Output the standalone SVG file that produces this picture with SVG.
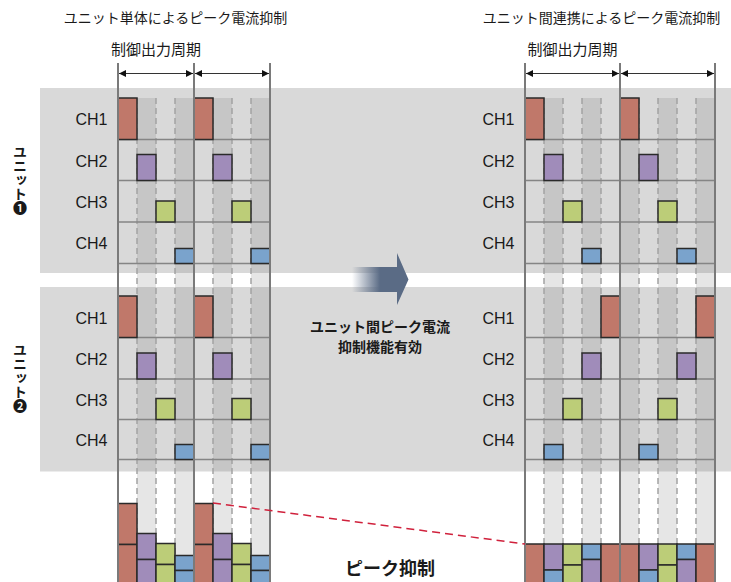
<svg xmlns="http://www.w3.org/2000/svg" width="731" height="582" viewBox="0 0 731 582">
<style>
.jp{font-family:"Noto Sans CJK JP","Noto Sans",sans-serif;fill:#1a1a1a}
.ch{font-family:"Liberation Sans",Arial,sans-serif;font-size:16px;fill:#1a1a1a;text-anchor:end}
.panel{fill:#d9d9d9}
.lst{fill:#e6e6e6}
.dst{fill:#c6c6c6}
.sol{stroke:#7a7a7a;stroke-width:2;fill:none}
.dsh{stroke:#a3a3a3;stroke-width:1.5;stroke-dasharray:6 4;fill:none}
.row{stroke:#858585;stroke-width:1.5;fill:none}
.r{fill:#c0786a;stroke:#2a2a2a;stroke-width:1.5}
.p{fill:#a08cba;stroke:#2a2a2a;stroke-width:1.5}
.g{fill:#bccd78;stroke:#2a2a2a;stroke-width:1.5}
.b{fill:#7aa3cc;stroke:#2a2a2a;stroke-width:1.5}
.per{stroke:#333;stroke-width:1.2;fill:none}
</style>
<defs>
<marker id="ah" viewBox="0 0 10 10" refX="10" refY="5" markerWidth="8" markerHeight="7" markerUnits="userSpaceOnUse" orient="auto-start-reverse">
<path d="M0,0 L10,5 L0,10 z" fill="#111"/>
</marker>
<linearGradient id="fade" gradientUnits="userSpaceOnUse" x1="352" y1="0" x2="380" y2="0">
<stop offset="0" stop-color="#5a6b85" stop-opacity="0"/>
<stop offset="1" stop-color="#5a6b85" stop-opacity="1"/>
</linearGradient>
</defs>
<rect x="0" y="0" width="731" height="582" fill="#ffffff"/>
<g id="panels">
<rect class="panel" x="40" y="88" width="691" height="185"/>
<rect class="panel" x="40" y="287" width="691" height="184.5"/>
</g>
<g id="stripes">
<rect class="lst" x="137" y="98" width="19" height="484"/>
<rect class="lst" x="175" y="98" width="19" height="484"/>
<rect class="lst" x="213" y="98" width="19" height="484"/>
<rect class="lst" x="251" y="98" width="19" height="484"/>
<rect class="lst" x="544" y="98" width="19" height="484"/>
<rect class="lst" x="582" y="98" width="19" height="484"/>
<rect class="lst" x="620" y="98" width="19" height="484"/>
<rect class="lst" x="658" y="98" width="19" height="484"/>
<rect class="lst" x="696" y="98" width="19" height="484"/>
<rect class="dst" x="137" y="98" width="19" height="175"/>
<rect class="dst" x="175" y="98" width="19" height="175"/>
<rect class="dst" x="213" y="98" width="19" height="175"/>
<rect class="dst" x="251" y="98" width="19" height="175"/>
<rect class="dst" x="544" y="98" width="19" height="175"/>
<rect class="dst" x="582" y="98" width="19" height="175"/>
<rect class="dst" x="620" y="98" width="19" height="175"/>
<rect class="dst" x="658" y="98" width="19" height="175"/>
<rect class="dst" x="696" y="98" width="19" height="175"/>
<rect class="dst" x="137" y="287" width="19" height="184.5"/>
<rect class="dst" x="175" y="287" width="19" height="184.5"/>
<rect class="dst" x="213" y="287" width="19" height="184.5"/>
<rect class="dst" x="251" y="287" width="19" height="184.5"/>
<rect class="dst" x="544" y="287" width="19" height="184.5"/>
<rect class="dst" x="582" y="287" width="19" height="184.5"/>
<rect class="dst" x="620" y="287" width="19" height="184.5"/>
<rect class="dst" x="658" y="287" width="19" height="184.5"/>
<rect class="dst" x="696" y="287" width="19" height="184.5"/>
</g>
<g id="grid">
<path class="dsh" d="M137,98V582M156,98V582M175,98V582M213,98V582M232,98V582M251,98V582"/>
<path class="dsh" d="M544,98V582M563,98V582M582,98V582M601,98V582M639,98V582M658,98V582M677,98V582M696,98V582"/>
<path class="row" d="M118,139.5H270M118,180.5H270M118,222H270M118,263.5H270M118,337.5H270M118,379H270M118,419.5H270M118,459.5H270"/>
<path class="row" d="M525,139.5H715M525,180.5H715M525,222H715M525,263.5H715M525,337.5H715M525,379H715M525,419.5H715M525,459.5H715"/>
</g>
<g id="texts">
<text class="jp" x="175.5" y="23" font-size="14" text-anchor="middle">ユニット単体によるピーク電流抑制</text>
<text class="jp" x="601.5" y="23" font-size="14" text-anchor="middle">ユニット間連携によるピーク電流抑制</text>
<text class="jp" x="156" y="54.5" font-size="15" text-anchor="middle">制御出力周期</text>
<text class="jp" x="572.5" y="54.5" font-size="15" text-anchor="middle">制御出力周期</text>
<text class="ch" x="107.5" y="125">CH1</text>
<text class="ch" x="107.5" y="166.5">CH2</text>
<text class="ch" x="107.5" y="207.5">CH3</text>
<text class="ch" x="107.5" y="248.5">CH4</text>
<text class="ch" x="107.5" y="323.5">CH1</text>
<text class="ch" x="107.5" y="365">CH2</text>
<text class="ch" x="107.5" y="405.5">CH3</text>
<text class="ch" x="107.5" y="446">CH4</text>
<text class="ch" x="514.5" y="125">CH1</text>
<text class="ch" x="514.5" y="166.5">CH2</text>
<text class="ch" x="514.5" y="207.5">CH3</text>
<text class="ch" x="514.5" y="248.5">CH4</text>
<text class="ch" x="514.5" y="323.5">CH1</text>
<text class="ch" x="514.5" y="365">CH2</text>
<text class="ch" x="514.5" y="405.5">CH3</text>
<text class="ch" x="514.5" y="446">CH4</text>
</g>
<g id="unit1">
<text class="jp" x="20" y="145" font-size="14" font-weight="bold" writing-mode="vertical-rl">ユニット❶</text>
</g>
<g id="unit2">
<text class="jp" x="20" y="343" font-size="14" font-weight="bold" writing-mode="vertical-rl">ユニット❷</text>
</g>
<g id="pulses-left">
<rect class="r" x="118" y="98" width="19" height="41.5"/>
<rect class="r" x="194" y="98" width="19" height="41.5"/>
<rect class="p" x="137" y="154.5" width="19" height="26"/>
<rect class="p" x="213" y="154.5" width="19" height="26"/>
<rect class="g" x="156" y="201" width="19" height="21"/>
<rect class="g" x="232" y="201" width="19" height="21"/>
<rect class="b" x="175" y="248.5" width="19" height="15"/>
<rect class="b" x="251" y="248.5" width="19" height="15"/>
<rect class="r" x="118" y="296" width="19" height="41.5"/>
<rect class="r" x="194" y="296" width="19" height="41.5"/>
<rect class="p" x="137" y="353" width="19" height="26"/>
<rect class="p" x="213" y="353" width="19" height="26"/>
<rect class="g" x="156" y="398.5" width="19" height="21"/>
<rect class="g" x="232" y="398.5" width="19" height="21"/>
<rect class="b" x="175" y="444.5" width="19" height="15"/>
<rect class="b" x="251" y="444.5" width="19" height="15"/>
</g>
<g id="pulses-right">
<rect class="r" x="525" y="98" width="19" height="41.5"/>
<rect class="r" x="620" y="98" width="19" height="41.5"/>
<rect class="p" x="544" y="154.5" width="19" height="26"/>
<rect class="p" x="639" y="154.5" width="19" height="26"/>
<rect class="g" x="563" y="201" width="19" height="21"/>
<rect class="g" x="658" y="201" width="19" height="21"/>
<rect class="b" x="582" y="248.5" width="19" height="15"/>
<rect class="b" x="677" y="248.5" width="19" height="15"/>
<rect class="r" x="601" y="296" width="19" height="41.5"/>
<rect class="r" x="696" y="296" width="19" height="41.5"/>
<rect class="p" x="582" y="353" width="19" height="26"/>
<rect class="p" x="677" y="353" width="19" height="26"/>
<rect class="g" x="563" y="398.5" width="19" height="21"/>
<rect class="g" x="658" y="398.5" width="19" height="21"/>
<rect class="b" x="544" y="444.5" width="19" height="15"/>
<rect class="b" x="639" y="444.5" width="19" height="15"/>
</g>
<g id="stack-left">
<rect class="r" x="118" y="503.5" width="19" height="41"/>
<rect class="r" x="118" y="544.5" width="19" height="41"/>
<rect class="p" x="137" y="533.5" width="19" height="26"/>
<rect class="p" x="137" y="559.5" width="19" height="26"/>
<rect class="g" x="156" y="543.5" width="19" height="21"/>
<rect class="g" x="156" y="564.5" width="19" height="21"/>
<rect class="b" x="175" y="555.5" width="19" height="15"/>
<rect class="b" x="175" y="570.5" width="19" height="15"/>
<rect class="r" x="194" y="503.5" width="19" height="41"/>
<rect class="r" x="194" y="544.5" width="19" height="41"/>
<rect class="p" x="213" y="533.5" width="19" height="26"/>
<rect class="p" x="213" y="559.5" width="19" height="26"/>
<rect class="g" x="232" y="543.5" width="19" height="21"/>
<rect class="g" x="232" y="564.5" width="19" height="21"/>
<rect class="b" x="251" y="555.5" width="19" height="15"/>
<rect class="b" x="251" y="570.5" width="19" height="15"/>
</g>
<g id="stack-right">
<rect class="r" x="525" y="544" width="19" height="42"/>
<rect class="p" x="544" y="544" width="19" height="26"/>
<rect class="b" x="544" y="570" width="19" height="16"/>
<rect class="g" x="563" y="544" width="19" height="21"/>
<rect class="g" x="563" y="565" width="19" height="21"/>
<rect class="b" x="582" y="544" width="19" height="15.5"/>
<rect class="p" x="582" y="559.5" width="19" height="26.5"/>
<rect class="r" x="601" y="544" width="19" height="42"/>
<rect class="r" x="620" y="544" width="19" height="42"/>
<rect class="p" x="639" y="544" width="19" height="26"/>
<rect class="b" x="639" y="570" width="19" height="16"/>
<rect class="g" x="658" y="544" width="19" height="21"/>
<rect class="g" x="658" y="565" width="19" height="21"/>
<rect class="b" x="677" y="544" width="19" height="15.5"/>
<rect class="p" x="677" y="559.5" width="19" height="26.5"/>
<rect class="r" x="696" y="544" width="19" height="42"/>
</g>
<g id="connectors">
<path class="sol" d="M118,63V582M194,63V582M270,63V582M525,63V582M620,63V582M715,63V582"/>
<line class="per" x1="119" y1="73.5" x2="193" y2="73.5" marker-start="url(#ah)" marker-end="url(#ah)"/>
<line class="per" x1="195" y1="73.5" x2="269" y2="73.5" marker-start="url(#ah)" marker-end="url(#ah)"/>
<line class="per" x1="526" y1="73.5" x2="619" y2="73.5" marker-start="url(#ah)" marker-end="url(#ah)"/>
<line class="per" x1="621" y1="73.5" x2="714" y2="73.5" marker-start="url(#ah)" marker-end="url(#ah)"/>
<line x1="213" y1="503" x2="525" y2="544" stroke="#d0213c" stroke-width="1.5" stroke-dasharray="8 5"/>
</g>
<g id="transition">
<path d="M352,267H397V253L408.5,279.5L397,305V292H352Z" fill="url(#fade)"/>
<text class="jp" x="380" y="332" font-size="14" font-weight="bold" text-anchor="middle">ユニット間ピーク電流</text>
<text class="jp" x="380" y="352" font-size="14" font-weight="bold" text-anchor="middle">抑制機能有効</text>
</g>
<g id="result">
<text class="jp" x="390" y="575" font-size="18" font-weight="bold" text-anchor="middle">ピーク抑制</text>
</g>
</svg>
